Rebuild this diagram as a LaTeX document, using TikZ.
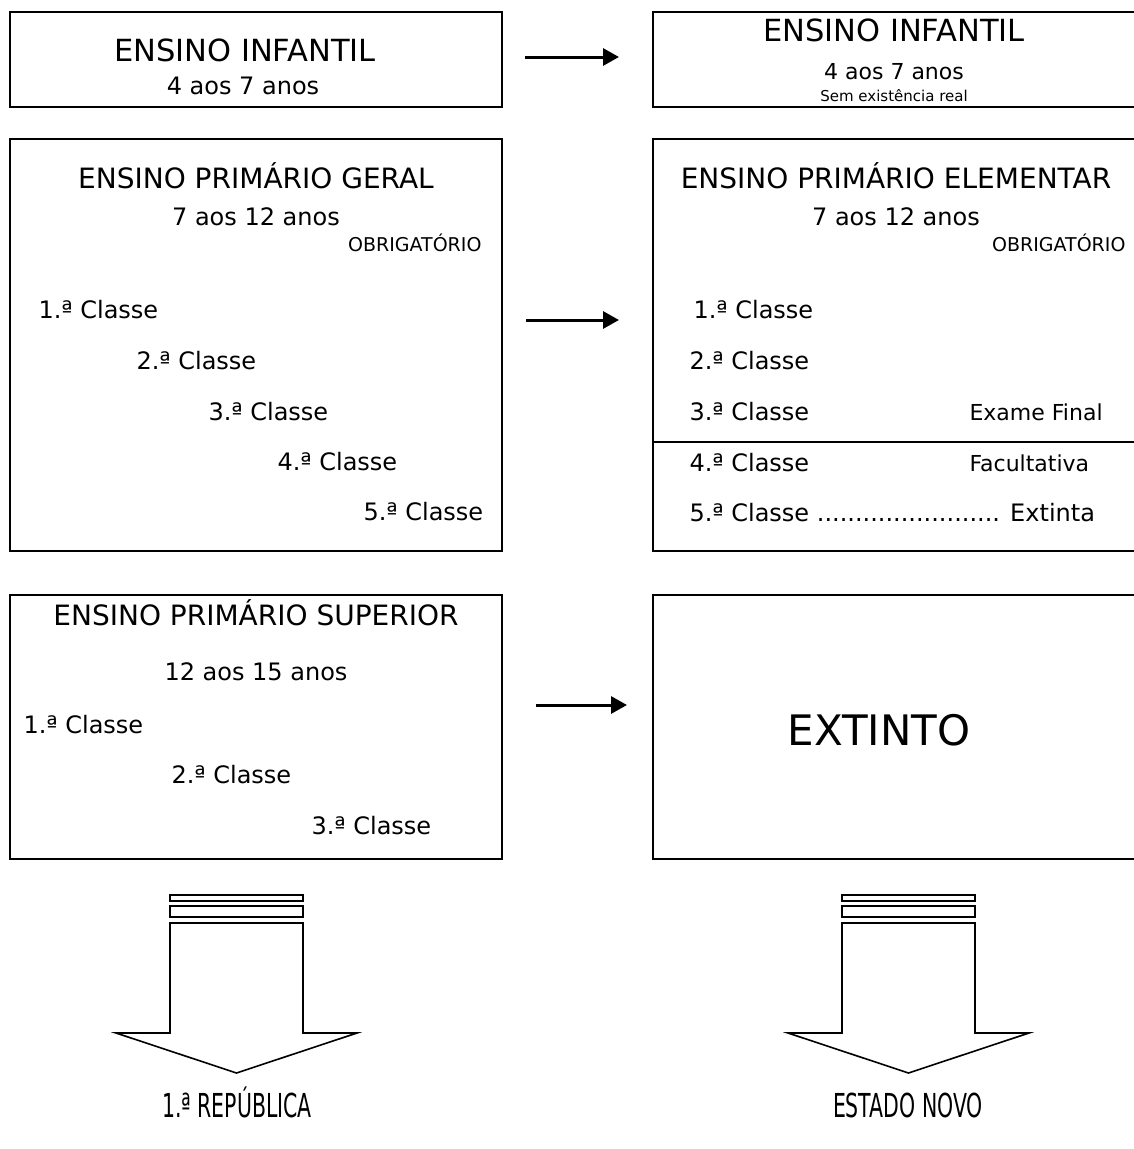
\documentclass[tikz,border=0pt]{standalone}
\usepackage{fontspec}
\setmainfont{DejaVu Sans}
\usepackage{tikz}
\usetikzlibrary{arrows.meta}

\begin{document}
\begin{tikzpicture}[x=1pt, y=-1pt, >={Triangle[length=16pt, width=17pt]},
    box/.style={draw, line width=2pt, rectangle, inner sep=0pt, minimum width=492pt},
    boxR/.style={box, minimum width=487pt},
    flow/.style={->, line width=3pt},
    hollow/.style={draw, line width=1.6pt, line join=miter},
    title/.style={anchor=base, font=\fontsize{28}{30}\selectfont},
    bigtitle/.style={anchor=base, font=\fontsize{30.5}{32}\selectfont},
    age/.style={anchor=base, font=\fontsize{24}{26}\selectfont},
    small/.style={anchor=base, font=\fontsize{22}{24}\selectfont},
    note/.style={anchor=base east, font=\fontsize{19}{21}\selectfont},
    cls/.style={anchor=base west, font=\fontsize{24}{26}\selectfont},
    remark/.style={anchor=base west, font=\fontsize{22}{24}\selectfont},
    era/.style={anchor=base, font=\fontsize{33}{35}\selectfont}]

        % --- PAGE ---
        \useasboundingbox (0,0) rectangle (1134,1149);

        % --- LEFT COLUMN (1.a REPUBLICA) ---
        \node[box, minimum height=95pt] (infL) at (256,59.5) {};
        \node[bigtitle] (infLt) at (245,61) {ENSINO INFANTIL};
        \node[age] (infLa) at (243,94) {4 aos 7 anos};

        \node[box, minimum height=412pt] (geral) at (256,345) {};
        \node[title] (geralt) at (256,188) {ENSINO PRIMÁRIO GERAL};
        \node[age] (gerala) at (256,225) {7 aos 12 anos};
        \node[note] (geraln) at (485,251) {OBRIGATÓRIO};
        \node[cls] (g1) at (35,318) {1.ª Classe};
        \node[cls] (g2) at (133,369) {2.ª Classe};
        \node[cls] (g3) at (205,420) {3.ª Classe};
        \node[cls] (g4) at (274,470) {4.ª Classe};
        \node[cls] (g5) at (360,520) {5.ª Classe};

        \node[box, minimum height=264pt] (sup) at (256,727) {};
        \node[title] (supt) at (256,625.5) {ENSINO PRIMÁRIO SUPERIOR};
        \node[age] (supa) at (256,680) {12 aos 15 anos};
        \node[cls] (s1) at (20,733) {1.ª Classe};
        \node[cls] (s2) at (168,783) {2.ª Classe};
        \node[cls] (s3) at (308,834) {3.ª Classe};

        % --- RIGHT COLUMN (ESTADO NOVO) ---
        \node[boxR, minimum height=95pt] (infR) at (896.5,59.5) {};
        \node[bigtitle] (infRt) at (894,41) {ENSINO INFANTIL};
        \node[small] (infRa) at (894,79) {4 aos 7 anos};
        \node[anchor=base, font=\fontsize{15}{17}\selectfont] (infRn) at (894,101) {Sem existência real};

        \node[boxR, minimum height=412pt] (elem) at (896.5,345) {};
        \node[title] (elemt) at (896,188) {ENSINO PRIMÁRIO ELEMENTAR};
        \node[age] (elema) at (896,225) {7 aos 12 anos};
        \node[note] (elemn) at (1129,251) {OBRIGATÓRIO};
        \node[cls] (e1) at (690,318) {1.ª Classe};
        \node[cls] (e2) at (686,369) {2.ª Classe};
        \node[cls] (e3) at (686,420) {3.ª Classe};
        \node[cls] (e4) at (686,471) {4.ª Classe};
        \node[cls] (e5) at (686,521) {5.ª Classe ........................ Extinta};
        \node[remark] (exame) at (966,420) {Exame Final};
        \node[remark] (facul) at (966,471) {Facultativa};
        \draw[line width=1.5pt] (elem.west |- 0,442) -- (elem.east |- 0,442);

        \node[boxR, minimum height=264pt] (ext) at (896.5,727) {};
        \node[anchor=base, font=\fontsize{42}{44}\selectfont] (extt) at (879,745) {EXTINTO};

        % --- ARROWS ---
        \draw[flow] ([shift={(22,-2.5)}]infL.east) -- ([shift={(-33,-2.5)}]infR.west);
        \draw[flow] ([shift={(23,-25)}]geral.east) -- ([shift={(-33,-25)}]elem.west);
        \draw[flow] ([shift={(33,-22)}]sup.east) -- ([shift={(-25,-22)}]ext.west);

        % --- HOLLOW ARROWS ---
        \foreach \cx in {236.5, 908.5} {
            \draw[hollow] ({\cx-66.5},895) rectangle ({\cx+66.5},901);
            \draw[hollow] ({\cx-66.5},906) rectangle ({\cx+66.5},917);
            \draw[hollow] ({\cx-66.5},923) -- ({\cx-66.5},1033) -- ({\cx-120.5},1033)
                -- (\cx,1073) -- ({\cx+120.5},1033) -- ({\cx+66.5},1033)
                -- ({\cx+66.5},923) -- cycle;
        }

        \node[era] (rep) at (237,1117) {\scalebox{0.62}[1]{1.ª REPÚBLICA}};
        \node[era] (en) at (908,1117) {\scalebox{0.62}[1]{ESTADO NOVO}};

\end{tikzpicture}
\end{document}
